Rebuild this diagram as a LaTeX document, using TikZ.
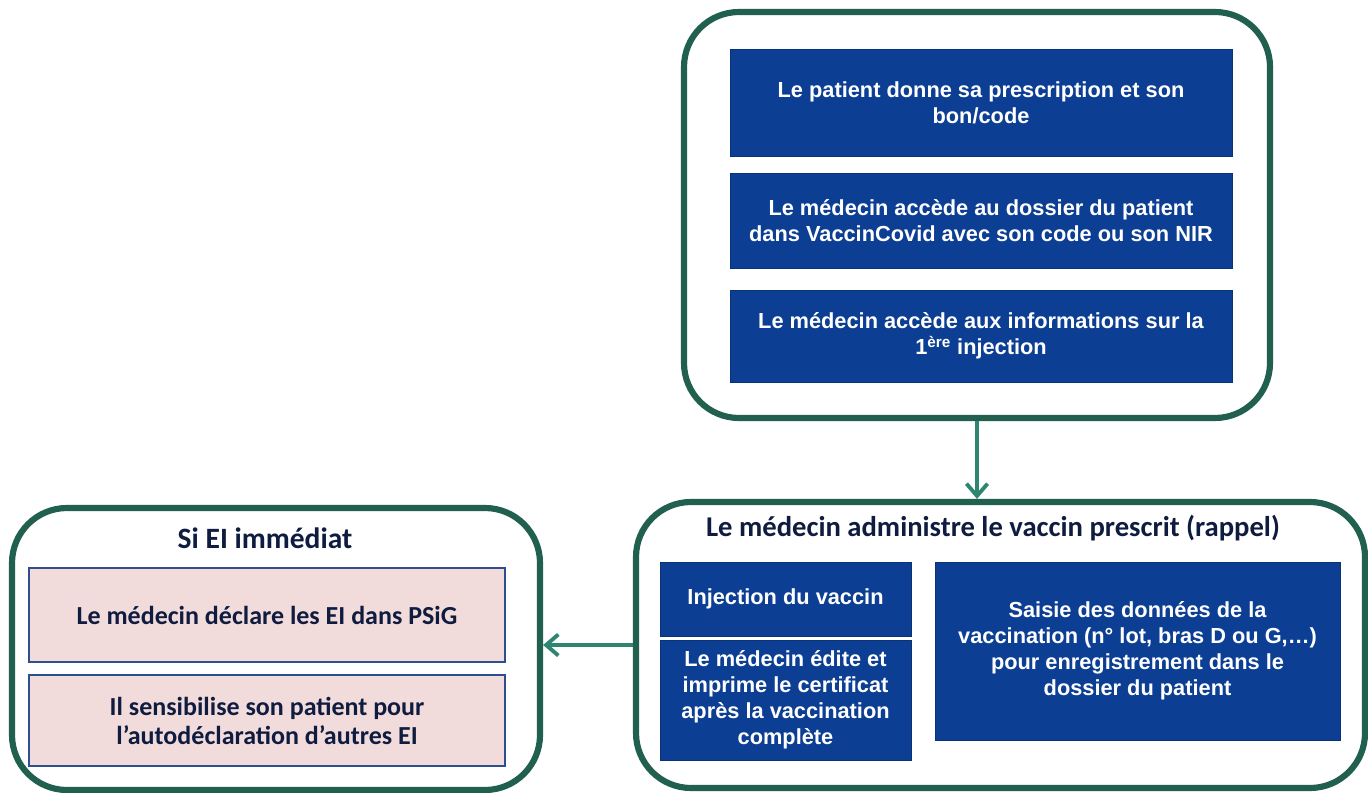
\documentclass[tikz,border=0pt]{standalone}
\usepackage{fontspec}
\setmainfont{Liberation Sans}
\newfontfamily\calibri{Carlito}
\usetikzlibrary{positioning,arrows.meta}
\definecolor{vaccblue}{HTML}{0C3E93}
\definecolor{framegreen}{HTML}{21604F}
\definecolor{arrowteal}{HTML}{2E8572}
\definecolor{eipink}{HTML}{F2DCDB}
\definecolor{eiborder}{HTML}{2F4E8E}
\definecolor{titlenavy}{HTML}{0F1C40}
\tikzset{
	x=0.02cm, y=-0.02cm,
	container/.style={draw=framegreen, line width=3.5pt, rounded corners=1.1cm, fill=white},
	bluebox/.style={fill=vaccblue, draw=vaccblue!80!black, line width=0.4pt, text=white,
		font=\fontsize{12.4}{14.8}\selectfont\bfseries, align=center, inner sep=2pt},
	pinkbox/.style={fill=eipink, draw=eiborder, line width=1pt, text=titlenavy,
		font=\calibri\fontsize{14.8}{16.5}\selectfont\bfseries, align=center, inner sep=2pt},
	boxtitle/.style={text=titlenavy, font=\calibri\fontsize{16.3}{19}\selectfont\bfseries},
	flow/.style={draw=arrowteal, line width=2.2pt, -{Straight Barb[length=7pt,width=12pt,line width=2.2pt]}},
}
\begin{document}
\begin{tikzpicture}
	\useasboundingbox (0,0) rectangle (1368,793);
	% containers
	\node[container, minimum width=586*0.02cm, minimum height=406*0.02cm] (top) at (977,215) {};
	\node[container, minimum width=729*0.02cm, minimum height=286*0.02cm] (rappel) at (1000.5,645) {};
	\node[container, minimum width=528*0.02cm, minimum height=282*0.02cm] (ei) at (276,649) {};
	% top steps
	\node[bluebox, minimum width=502*0.02cm, minimum height=107*0.02cm] (patient) at (981,102.5)
		{Le patient donne sa prescription et son\\ bon/code};
	\node[bluebox, minimum width=502*0.02cm, minimum height=95*0.02cm] (dossier) at (981,220.5)
		{Le médecin accède au dossier du patient\\ dans VaccinCovid avec son code ou son NIR};
	\node[bluebox, minimum width=502*0.02cm, minimum height=92*0.02cm] (infos) at (981,336)
		{Le médecin accède aux informations sur la\\ 1\textsuperscript{ère} injection};
	% rappel
	\node[boxtitle] (rappeltitle) at (993,528) {Le médecin administre le vaccin prescrit (rappel)};
	\node[bluebox, minimum width=251*0.02cm, minimum height=74*0.02cm] (injection) at (785.5,599)
		{Injection du vaccin};
	\node[bluebox, minimum width=251*0.02cm, minimum height=120*0.02cm] (certificat) at (785.5,700)
		{Le médecin édite et\\ imprime le certificat\\ après la vaccination\\ complète};
	\node[bluebox, minimum width=405*0.02cm, minimum height=178*0.02cm] (saisie) at (1137.5,651)
		{Saisie des données de la\\ vaccination (n° lot, bras D ou G,\dots)\\ pour enregistrement dans le\\ dossier du patient};
	% EI
	\node[boxtitle, font=\calibri\fontsize{16.8}{19}\selectfont\bfseries] (eititle) at (265,538) {Si EI immédiat};
	\node[pinkbox, minimum width=476*0.02cm, minimum height=94*0.02cm] (declare) at (267,615)
		{Le médecin déclare les EI dans PSiG};
	\node[pinkbox, minimum width=476*0.02cm, minimum height=91*0.02cm] (sensibilise) at (267,720.5)
		{Il sensibilise son patient pour\\ l’autodéclaration d’autres EI};
	% arrows
	\draw[flow] (top.south) -- (top.south |- rappel.north);
	\draw[flow] (rappel.west) -- (ei.east |- rappel.west);
\end{tikzpicture}
\end{document}
